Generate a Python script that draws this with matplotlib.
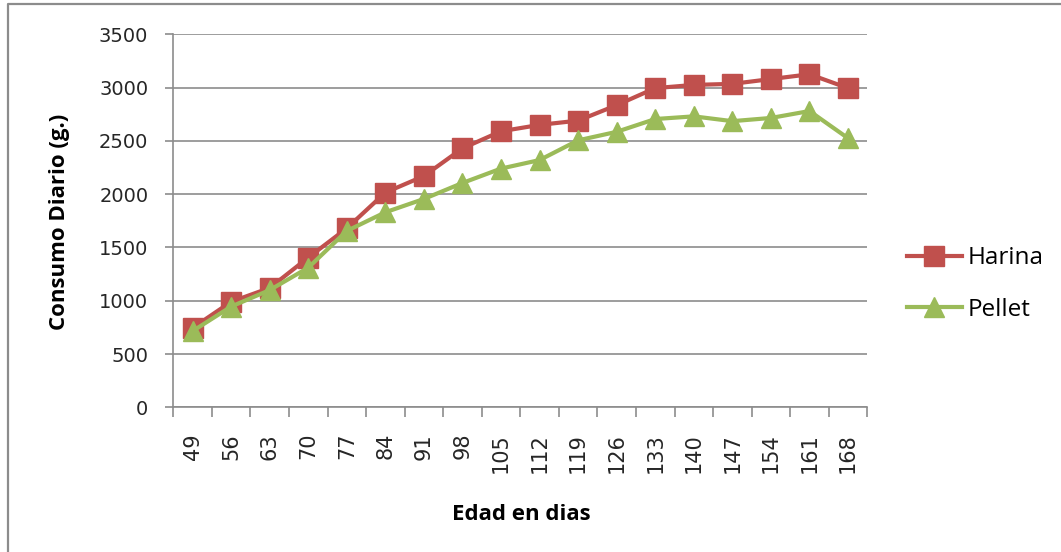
import matplotlib
matplotlib.use("Agg")
import matplotlib.pyplot as plt
from matplotlib.lines import Line2D

dias = [49, 56, 63, 70, 77, 84, 91, 98, 105, 112, 119, 126, 133, 140, 147, 154, 161, 168]
harina = [745, 990, 1120, 1405, 1680, 2015, 2170, 2430, 2590, 2650, 2690, 2835, 2995, 3025, 3035, 3080, 3125, 2995]
pellet = [715, 945, 1100, 1310, 1655, 1830, 1955, 2105, 2240, 2320, 2505, 2585, 2705, 2730, 2685, 2715, 2780, 2525]

plt.rcParams["font.family"] = ["Open Sans", "DejaVu Sans"]

W, H = 1061, 552
fig = plt.figure(figsize=(W / 100, H / 100), dpi=100)
ax = fig.add_axes([173.3 / W, 1 - 407.3 / H, (867.3 - 173.3) / W, (407.3 - 34.3) / H])

x = list(range(len(dias)))
ax.plot(x, harina, color="#C0504D", linewidth=3, marker="s", markersize=14,
        label="Harina", zorder=3)
ax.plot(x, pellet, color="#9BBB59", linewidth=3, marker="^", markersize=14,
        label="Pellet", zorder=4)

ax.set_xlim(-0.5, len(dias) - 0.5)
ax.set_ylim(0, 3500)
ax.set_yticks(range(0, 3501, 500))
ax.set_xticks(x)
ax.set_xticklabels([str(d) for d in dias], rotation=90)
ax.set_xticks([i - 0.5 for i in range(len(dias) + 1)], minor=True)

grey = "#8C8C8C"
ax.grid(axis="y", color=grey, linewidth=1.2)
ax.set_axisbelow(True)
for s in ["top", "right"]:
    ax.spines[s].set_visible(False)
for s in ["left", "bottom"]:
    ax.spines[s].set_color(grey)
    ax.spines[s].set_linewidth(1.2)

tick_font = ["DejaVu Sans"]
ax.tick_params(axis="y", direction="out", length=6, color=grey, width=1.2,
               labelcolor="#262626", pad=12)
ax.tick_params(axis="x", which="major", length=0, pad=18.5, labelcolor="#262626")
ax.tick_params(axis="x", which="minor", direction="out", length=7, color=grey,
               width=1.2)
for lbl in ax.get_yticklabels():
    lbl.set_family(tick_font)
    lbl.set_fontsize(14)
for lbl in ax.get_xticklabels():
    lbl.set_family(tick_font)
    lbl.set_fontsize(15)

fig.text(60 / W, 1 - 221.5 / H, "Consumo Diario (g.)", rotation=90,
         ha="center", va="center", fontsize=16, fontweight="bold")
fig.text(521 / W, 1 - 520 / H, "Edad en dias", ha="center", va="baseline",
         fontsize=16, fontweight="bold")

ax.legend(loc="center left", bbox_to_anchor=(907 / W, 1 - 284 / H),
          bbox_transform=fig.transFigure, frameon=False, borderpad=0,
          borderaxespad=0, fontsize=17.5, handlelength=2.26,
          labelspacing=1.15, handletextpad=0.25)

# outer chart frame (left and top edges visible)
fig.add_artist(Line2D([8 / W, 8 / W, 1], [0, 1 - 4 / H, 1 - 4 / H],
                      transform=fig.transFigure, color=grey, linewidth=1.6))

fig.savefig("out.png", dpi=100)
